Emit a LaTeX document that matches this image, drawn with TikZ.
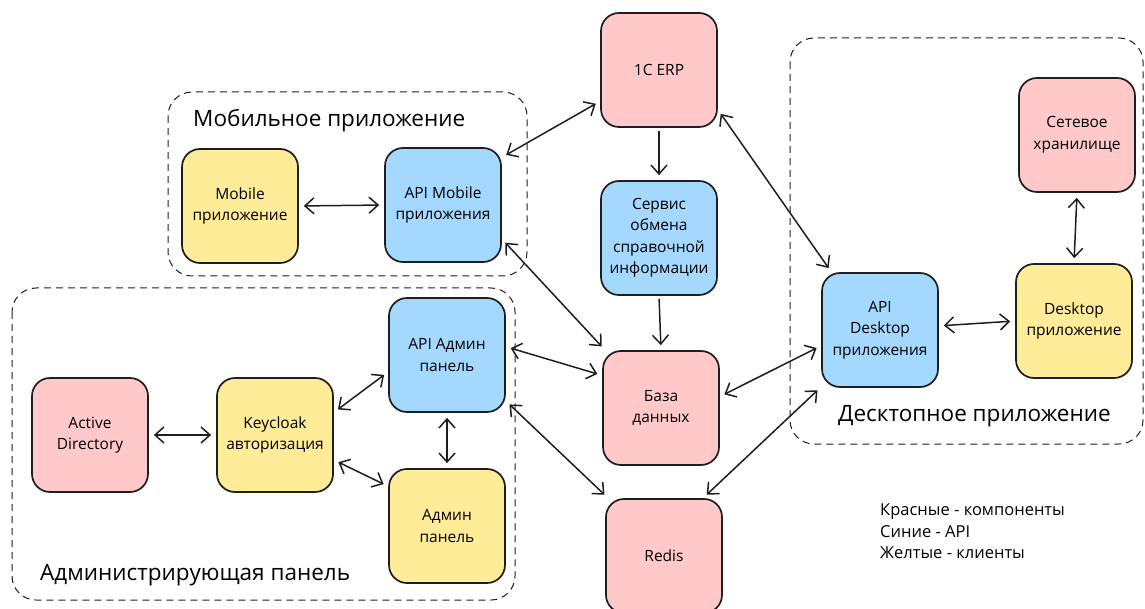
\documentclass[tikz,border=0pt]{standalone}
\usepackage{fontspec}
\setmainfont{Open Sans}
\usetikzlibrary{arrows.meta, positioning}
\definecolor{compred}{HTML}{FFC9C9}
\definecolor{apiblue}{HTML}{A5D8FF}
\definecolor{clientyellow}{HTML}{FFEC99}
\definecolor{ink}{HTML}{1E1E1E}

\begin{document}
\begin{tikzpicture}[x=1pt, y=-1pt,
  box/.style={draw=ink, line width=1.7pt, rounded corners=18pt, minimum width=116pt,
    minimum height=114pt, align=center, inner sep=2pt, font=\fontsize{15.5}{21.5}\selectfont},
  comp/.style={box, fill=compred},
  api/.style={box, fill=apiblue},
  client/.style={box, fill=clientyellow},
  group/.style={draw=ink, line width=1pt, rounded corners=24pt, dash pattern=on 7pt off 5pt},
  grouplabel/.style={anchor=west, inner sep=0pt, font=\fontsize{22.5}{24}\selectfont},
  link/.style={draw=ink, line width=1.5pt, {Straight Barb[length=9pt, width=16pt]}-{Straight Barb[length=9pt, width=16pt]},
    shorten <=5pt, shorten >=5pt},
  flow/.style={draw=ink, line width=1.5pt, -{Straight Barb[length=9pt, width=16pt]},
    shorten <=3pt, shorten >=5pt}
]
  \useasboundingbox (0,0) rectangle (1145,609);

  % dashed groups with their titles
  \draw[group] (168,92) rectangle (527,276);
  \draw[group] (12,288) rectangle (515,600);
  \draw[group] (790,38) rectangle (1143,444);
  \node[grouplabel] (mobtitle) at (193,121) {Мобильное приложение};
  \node[grouplabel] (admtitle) at (40,575) {Администрирующая панель};
  \node[grouplabel] (desktitle) at (838,416) {Десктопное приложение};

  % core components
  \node[comp] (erp) at (659,70) {1C ERP};
  \node[api] (svc) at (659,238) {Сервис\\обмена\\справочной\\информации};
  \node[comp] (db) at (661,408) {База\\данных};
  \node[comp] (redis) at (664,556) {Redis};

  % mobile
  \node[client] (mob) at (240,206) {Mobile\\приложение};
  \node[api] (apimob) at (443,205) {API Mobile\\приложения};

  % admin panel
  \node[comp] (ad) at (90,435) {Active\\Directory};
  \node[client] (kc) at (275,435) {Keycloak\\авторизация};
  \node[api] (apiadm) at (447,355) {API Админ\\панель};
  \node[client] (adm) at (447,526) {Админ\\панель};

  % desktop
  \node[api] (apidesk) at (880,330) {API\\Desktop\\приложения};
  \node[client] (desk) at (1074,321) {Desktop\\приложение};
  \node[comp] (nas) at (1077,135) {Сетевое\\хранилище};

  % links
  \draw[flow] (erp.south) -- (svc.north);
  \draw[flow] (svc.south) -- (db.north);
  \foreach \from/\to in {apimob.39/erp.208, erp.326/apidesk.130, mob.east/apimob.west,
      apimob.330/db.134, apiadm.8/db.151, apiadm.322/redis.134, db.11/apidesk.195,
      redis.56/apidesk.224, ad.east/kc.west, kc.21/apiadm.196, kc.337/adm.146,
      apiadm.south/adm.north, nas.south/desk.north, apidesk.4/desk.180} {
    \draw[link] (\from) -- (\to);
  }

  % colour key
  \node[anchor=north west, align=left, inner sep=0pt, font=\fontsize{16.5}{21.5}\selectfont]
    (legend) at (880,504) {Красные - компоненты\\Синие - API\\Желтые - клиенты};
\end{tikzpicture}
\end{document}
